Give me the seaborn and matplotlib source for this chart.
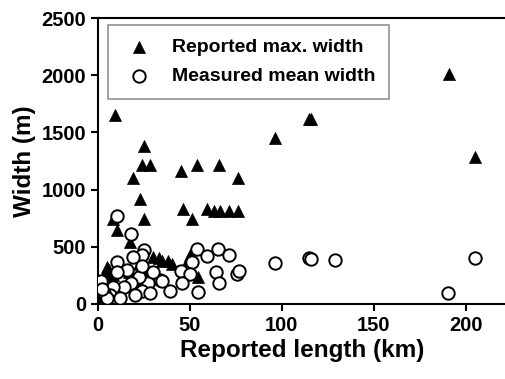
import matplotlib
matplotlib.use("Agg")
import matplotlib.pyplot as plt
import pandas as pd
import seaborn as sns

# Reported maximum width (triangles)
max_length = [9, 25, 24, 28, 19, 23, 25, 8, 10, 17.5, 45, 54, 66, 76, 46, 51,
              59, 63, 66.5, 71, 76, 96, 115, 116, 191, 205,
              1, 2, 3, 4, 5, 6, 8, 10, 12, 15, 17, 20, 22, 25, 28, 30,
              33, 35, 38, 40, 49, 54.5, 50]
max_width = [1650, 1380, 1220, 1220, 1100, 920, 745, 745, 650, 540, 1160, 1220, 1220, 1100, 830, 740,
             835, 815, 815, 815, 815, 1450, 1620, 1620, 2010, 1290,
             30, 100, 200, 280, 320, 300, 250, 330, 350, 300, 280, 200, 350, 300, 250,
             410, 400, 380, 380, 350, 385, 240, 430]

# Measured mean width (open circles)
mean_length = [10.5, 18, 25, 24, 19, 10.5, 1.8, 54, 65, 59, 71, 51, 45, 50, 45.5,
               64, 66, 54.5, 75.5, 76.5, 96, 114.5, 116, 129, 190.5, 205,
               33.5, 39, 27, 24, 22.5, 18, 14, 8, 6.5, 12, 15.5, 24, 3, 5, 2,
               30, 20, 28, 10, 35]
mean_width = [770, 610, 470, 430, 415, 365, 200, 485, 485, 420, 425, 370, 290, 260, 180,
              280, 180, 105, 260, 290, 355, 405, 390, 385, 100, 405,
              210, 115, 185, 110, 240, 185, 145, 150, 80, 55, 300, 330, 100, 50, 130,
              280, 80, 95, 280, 200]

df_max = pd.DataFrame({"length": max_length, "width": max_width})
df_mean = pd.DataFrame({"length": mean_length, "width": mean_width})

sns.set_style("ticks")
plt.rcParams["font.family"] = ["Liberation Sans", "DejaVu Sans"]
plt.rcParams["font.weight"] = "bold"
plt.rcParams["text.color"] = "black"
plt.rcParams["axes.labelcolor"] = "black"
plt.rcParams["xtick.color"] = "black"
plt.rcParams["ytick.color"] = "black"

fig = plt.figure(figsize=(5.06, 3.79), dpi=100)
ax = fig.add_axes([0.194, 0.198, 0.806, 0.754])

sns.scatterplot(data=df_max, x="length", y="width", marker="^", s=75,
                color="black", edgecolor="black", linewidth=0.5,
                label="Reported max. width", ax=ax, zorder=2)
sns.scatterplot(data=df_mean, x="length", y="width", marker="o", s=80,
                facecolor="white", edgecolor="black", linewidth=1.4,
                label="Measured mean width", ax=ax, zorder=3)

ax.set_xlim(0, 222)
ax.set_ylim(0, 2500)
ax.set_xticks([0, 50, 100, 150, 200])
ax.set_yticks([0, 500, 1000, 1500, 2000, 2500])
ax.tick_params(axis="both", labelsize=14.5, width=1.5, length=5, direction="out",
               colors="black")
for lab in ax.get_xticklabels() + ax.get_yticklabels():
    lab.set_fontweight("bold")

ax.set_xlabel("Reported length (km)", fontsize=17.5, fontweight="bold", labelpad=3)
ax.set_ylabel("Width (m)", fontsize=17.5, fontweight="bold", labelpad=4)

for side in ["left", "bottom", "top"]:
    ax.spines[side].set_linewidth(1.5)
    ax.spines[side].set_color("black")
ax.spines["right"].set_visible(False)

leg = ax.legend(loc="upper left", bbox_to_anchor=(0.015, 0.99),
                frameon=True, fancybox=False, edgecolor="#777777",
                handletextpad=0.8, borderpad=0.7, labelspacing=0.6,
                borderaxespad=0.2, handlelength=1.8,
                prop={"weight": "bold", "size": 14})
leg.get_frame().set_linewidth(1.2)
for t in leg.get_texts():
    t.set_color("black")

fig.savefig("out.png", dpi=100)
